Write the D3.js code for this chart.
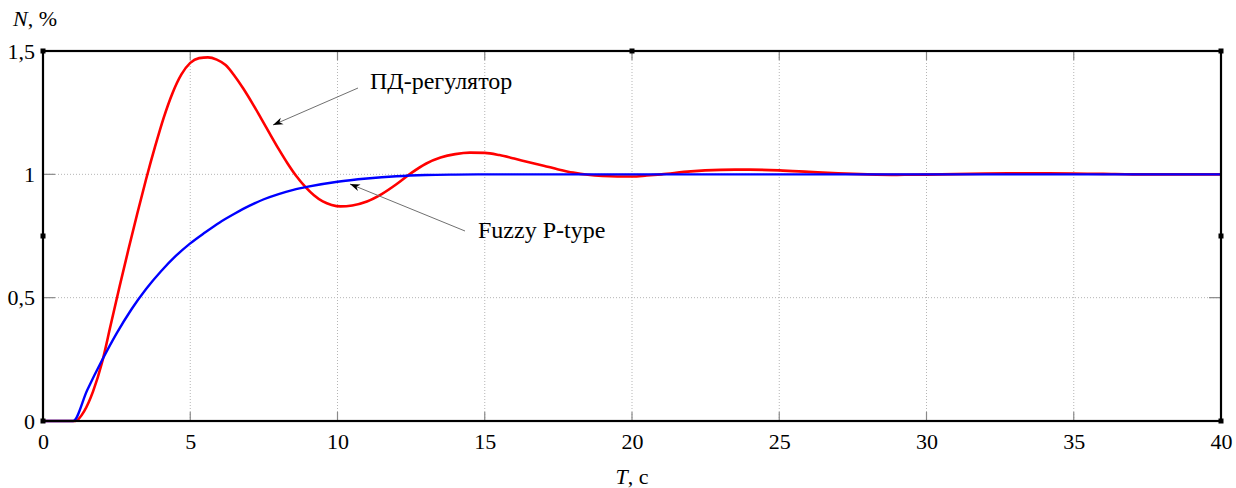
<!DOCTYPE html>
<html>
<head>
<meta charset="utf-8">
<script src="https://cdn.jsdelivr.net/npm/d3@7"></script>
<style>
  html, body { margin: 0; padding: 0; background: #fff; }
  svg { display: block; }
  svg text { font-family: "Liberation Serif", "Times New Roman", serif !important; fill: #000; }
</style>
</head>
<body>
<svg id="chart" width="1236" height="488"></svg>
<script>
// ---- data ----
const xTicks = [0, 5, 10, 15, 20, 25, 30, 35, 40];
const yTicks = [0, 0.5, 1, 1.5];
const yTickLabels = ["0", "0,5", "1", "1,5"];

const pdTime = [0, 1.1, 1.4, 1.7, 2.0, 2.3, 2.6, 2.9, 3.2, 3.5, 3.8, 4.1, 4.4, 4.7, 5.0, 5.3, 5.6, 5.9, 6.2, 6.5, 6.8, 7.1, 7.4, 7.7, 8.0, 8.3, 8.6, 8.9, 9.2, 9.5, 9.8, 10.1, 10.5, 11, 11.5, 12, 12.5, 13, 13.5, 14, 14.5, 15, 15.5, 16, 16.5, 17, 17.5, 18, 18.5, 19, 19.5, 20, 20.5, 21, 22, 23, 23.5, 24, 25, 26, 27, 28, 29, 30, 31, 32, 33, 34, 35, 36, 37, 40];
const pdValue = [0, 0, 0.04, 0.12, 0.235, 0.39, 0.545, 0.695, 0.84, 0.98, 1.11, 1.23, 1.33, 1.405, 1.452, 1.471, 1.474, 1.465, 1.443, 1.40, 1.348, 1.29, 1.228, 1.165, 1.103, 1.045, 0.993, 0.95, 0.915, 0.89, 0.876, 0.87, 0.874, 0.89, 0.92, 0.96, 1.005, 1.043, 1.068, 1.082, 1.088, 1.087, 1.078, 1.064, 1.049, 1.035, 1.02, 1.007, 0.998, 0.993, 0.991, 0.991, 0.995, 1.0, 1.012, 1.018, 1.019, 1.019, 1.016, 1.01, 1.004, 1.0, 0.998, 0.999, 1.001, 1.003, 1.004, 1.004, 1.003, 1.002, 1.0, 1.0];

const fuzzyTime = [0, 1.02, 1.5, 2, 2.5, 3, 3.5, 4, 4.5, 5, 5.5, 6, 6.5, 7, 7.5, 8, 8.5, 9, 10, 11, 12, 13, 14, 15, 17, 20, 30, 40];
const fuzzyValue = [0, 0, 0.125, 0.245, 0.355, 0.452, 0.535, 0.606, 0.668, 0.72, 0.764, 0.805, 0.84, 0.872, 0.899, 0.92, 0.937, 0.95, 0.97, 0.983, 0.992, 0.997, 0.999, 1.0, 1.0, 1.0, 1.0, 1.0];

const labelPD = "ПД-регулятор";
const labelFuzzy = "Fuzzy P-type";
const yTitle = ["N", ", %"];
const xTitle = ["T", ", c"];

// ---- layout ----
const FONT = "'Liberation Serif', 'Times New Roman', serif";
const svg = d3.select("#chart");
const W = 1236, H = 488;
const m = { left: 43, right: 15, top: 51, bottom: 67 };
const x = d3.scaleLinear().domain([0, 40]).range([m.left, W - m.right]);
const y = d3.scaleLinear().domain([0, 1.5]).range([H - m.bottom, m.top]);

svg.append("rect").attr("width", W).attr("height", H).attr("fill", "#fff");

// grid
const grid = svg.append("g");
grid.selectAll("line.gx").data(xTicks.slice(1, -1)).enter().append("line")
  .attr("x1", d => x(d)).attr("x2", d => x(d))
  .attr("y1", y(0)).attr("y2", y(1.5))
  .attr("stroke", "#b5b5b5").attr("stroke-width", 1).attr("stroke-dasharray", "1,2");
grid.selectAll("line.gy").data(yTicks.slice(1, -1)).enter().append("line")
  .attr("x1", x(0)).attr("x2", x(40))
  .attr("y1", d => y(d)).attr("y2", d => y(d))
  .attr("stroke", "#b5b5b5").attr("stroke-width", 1).attr("stroke-dasharray", "1,2");

// inward ticks on all sides
const tickG = svg.append("g").attr("stroke", "#8a8a8a").attr("stroke-width", 1.2);
xTicks.slice(1, -1).forEach(t => {
  tickG.append("line").attr("x1", x(t)).attr("x2", x(t)).attr("y1", y(0)).attr("y2", y(0) - 9);
  tickG.append("line").attr("x1", x(t)).attr("x2", x(t)).attr("y1", y(1.5)).attr("y2", y(1.5) + 9);
});
yTicks.slice(1, -1).forEach(t => {
  tickG.append("line").attr("x1", x(0)).attr("x2", x(0) + 12).attr("y1", y(t)).attr("y2", y(t));
  tickG.append("line").attr("x1", x(40)).attr("x2", x(40) - 12).attr("y1", y(t)).attr("y2", y(t));
});

// axes with d3 (labels only)
const xAxis = svg.append("g").attr("transform", `translate(0,${y(0)})`)
  .call(d3.axisBottom(x).tickValues(xTicks).tickSize(0).tickPadding(12).tickFormat(d3.format("d")));
xAxis.attr("font-family", FONT).attr("font-size", 22);
xAxis.select(".domain").remove();
xAxis.selectAll("text").attr("fill", "#000");

const yAxis = svg.append("g").attr("transform", `translate(${x(0)},0)`)
  .call(d3.axisLeft(y).tickValues(yTicks).tickSize(0).tickPadding(8).tickFormat((d, i) => yTickLabels[i]));
yAxis.attr("font-family", FONT).attr("font-size", 22);
yAxis.select(".domain").remove();
yAxis.selectAll("text").attr("fill", "#000");

// curves
const line = d3.line().x(d => x(d[0])).y(d => y(d[1])).curve(d3.curveMonotoneX);
const pdData = pdTime.map((t, i) => [t, pdValue[i]]);
const fzData = fuzzyTime.map((t, i) => [t, fuzzyValue[i]]);

svg.append("path").datum(pdData).attr("d", line)
  .attr("fill", "none").attr("stroke", "#ff0000").attr("stroke-width", 2.6).attr("stroke-linejoin", "round");
svg.append("path").datum(fzData).attr("d", line)
  .attr("fill", "none").attr("stroke", "#0000ff").attr("stroke-width", 2.4).attr("stroke-linejoin", "round");

// frame
svg.append("rect").attr("x", x(0)).attr("y", y(1.5)).attr("width", x(40) - x(0)).attr("height", y(0) - y(1.5))
  .attr("fill", "none").attr("stroke", "#000").attr("stroke-width", 2.2);

// little marker squares on frame
const sq = [[x(0), y(1.5)], [x(40), y(1.5)], [x(0), y(0)], [x(40), y(0)], [x(20), y(1.5)], [x(0), y(0.75)], [x(40), y(0.75)]];
svg.selectAll("rect.sq").data(sq).enter().append("rect")
  .attr("x", d => d[0] - 2.5).attr("y", d => d[1] - 2.5).attr("width", 5).attr("height", 5).attr("fill", "#000");

// axis titles
const yt = svg.append("text").attr("x", 13).attr("y", 26).attr("font-size", 22).attr("font-family", FONT);
yt.append("tspan").attr("font-style", "italic").text(yTitle[0]);
yt.append("tspan").text(yTitle[1]);
const xt = svg.append("text").attr("x", x(20)).attr("y", 484).attr("font-size", 22).attr("font-family", FONT).attr("text-anchor", "middle");
xt.append("tspan").attr("font-style", "italic").text(xTitle[0]);
xt.append("tspan").text(xTitle[1]);

// annotations
const defs = svg.append("defs");
defs.append("marker").attr("id", "arr").attr("viewBox", "0 0 10 10").attr("refX", 10).attr("refY", 5)
  .attr("markerWidth", 10).attr("markerHeight", 10).attr("orient", "auto").attr("markerUnits", "userSpaceOnUse")
  .append("path").attr("d", "M10,5 L0,1.5 L3,5 L0,8.5 Z").attr("fill", "#000");

svg.append("line").attr("x1", 358).attr("y1", 88).attr("x2", 273).attr("y2", 125)
  .attr("stroke", "#707070").attr("stroke-width", 1).attr("marker-end", "url(#arr)");
svg.append("line").attr("x1", 465).attr("y1", 231).attr("x2", 350).attr("y2", 184)
  .attr("stroke", "#707070").attr("stroke-width", 1).attr("marker-end", "url(#arr)");

svg.append("text").attr("x", 370).attr("y", 89).attr("font-size", 24).attr("font-family", FONT).text(labelPD);
svg.append("text").attr("x", 478).attr("y", 238).attr("font-size", 24).attr("font-family", FONT).text(labelFuzzy);
</script>
</body>
</html>
